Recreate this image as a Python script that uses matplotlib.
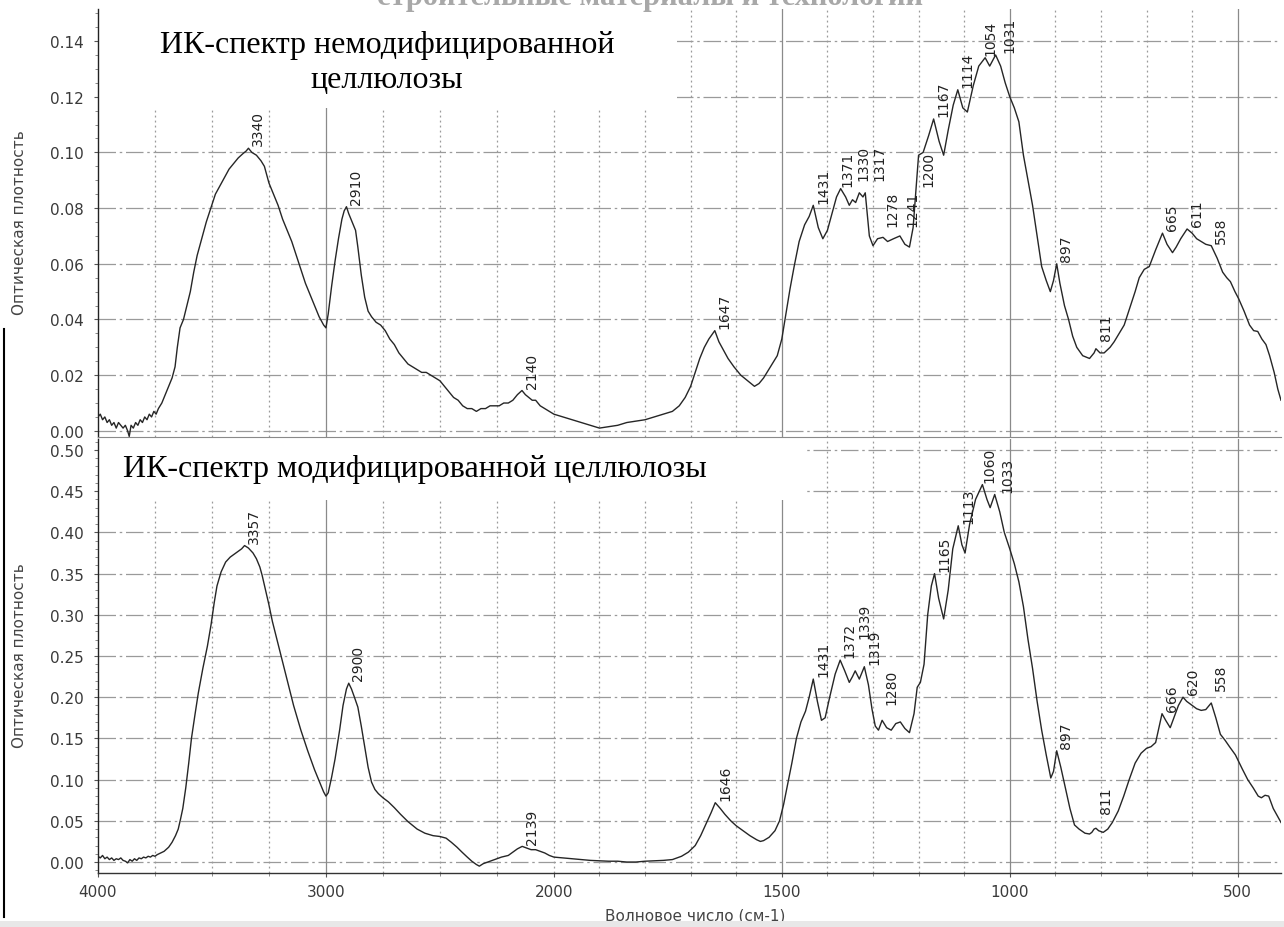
import numpy as np
import matplotlib
matplotlib.use('Agg')
import matplotlib.pyplot as plt
from matplotlib.patches import Rectangle
from matplotlib.lines import Line2D
from matplotlib.ticker import FixedLocator, MultipleLocator, FormatStrFormatter

plt.rcParams['font.family'] = ['DejaVu Sans']

# spectrum of the untreated cellulose (wavenumber, optical density)
top_wn = [4000, 3990, 3980, 3970, 3960, 3950, 3940, 3930, 3920, 3910,
          3900, 3890, 3880, 3870, 3863, 3855, 3845, 3835, 3825, 3815,
          3805, 3795, 3785, 3775, 3765, 3755, 3745, 3735, 3720, 3705,
          3690, 3675, 3662, 3652, 3640, 3625, 3610, 3595, 3580, 3565,
          3545, 3525, 3505, 3485, 3465, 3445, 3425, 3405, 3385, 3365,
          3350, 3340, 3325, 3305, 3285, 3270, 3250, 3230, 3210, 3190,
          3170, 3150, 3130, 3110, 3090, 3070, 3050, 3030, 3010, 3000,
          2990, 2975, 2960, 2945, 2930, 2920, 2910, 2900, 2885, 2870,
          2860, 2845, 2830, 2815, 2800, 2780, 2760, 2740, 2720, 2700,
          2680, 2660, 2640, 2620, 2600, 2580, 2560, 2540, 2520, 2500,
          2480, 2460, 2440, 2420, 2400, 2380, 2360, 2340, 2320, 2300,
          2280, 2260, 2240, 2220, 2200, 2180, 2160, 2140, 2125, 2110,
          2095, 2080, 2060, 2040, 2020, 2000, 1980, 1960, 1940, 1920,
          1900, 1880, 1860, 1840, 1820, 1800, 1780, 1760, 1740, 1725,
          1712, 1700, 1690, 1680, 1670, 1660, 1647, 1638, 1628, 1618,
          1605, 1590, 1575, 1560, 1550, 1540, 1525, 1510, 1500, 1492,
          1482, 1473, 1462, 1450, 1440, 1431, 1420, 1410, 1400, 1390,
          1380, 1371, 1360, 1352, 1345, 1338, 1330, 1322, 1317, 1308,
          1300, 1290, 1278, 1268, 1255, 1241, 1230, 1220, 1212, 1205,
          1200, 1190, 1178, 1167, 1155, 1145, 1135, 1124, 1114, 1103,
          1093, 1080, 1068, 1054, 1044, 1031, 1020, 1010, 1000, 990,
          980, 970, 960, 950, 940, 930, 920, 911, 904, 897,
          890, 880, 871, 862, 853, 840, 825, 815, 811, 802,
          793, 780, 771, 760, 749, 735, 725, 716, 705, 694,
          680, 670, 665, 655, 643, 635, 625, 611, 600, 590,
          580, 570, 558, 545, 533, 524, 516, 506, 498, 486,
          474, 465, 456, 447, 438, 430, 420, 412, 405]
top_ab = [.005, .006, .004, .005, .003, .004, .002, .003, .001, .003,
          .002, .001, .002, .000, -.002, .002, .001, .003, .002, .004,
          .003, .005, .004, .006, .005, .007, .006, .008, .010, .013,
          .016, .019, .023, .030, .037, .040, .045, .050, .057, .063,
          .069, .075, .080, .085, .088, .091, .094, .096, .098, .0995,
          .1005, .1015, .100, .099, .097, .095, .089, .085, .081, .076,
          .072, .068, .063, .058, .053, .049, .045, .041, .038, .037,
          .042, .052, .061, .069, .076, .079, .0805, .078, .075, .072,
          .066, .056, .048, .043, .041, .039, .038, .036, .033, .031,
          .028, .026, .024, .023, .022, .021, .021, .020, .019, .018,
          .016, .014, .012, .011, .009, .008, .008, .007, .008, .008,
          .009, .009, .009, .010, .010, .011, .013, .0145, .013, .012,
          .011, .011, .009, .008, .007, .006, .005, .004, .003, .002,
          .001, .0015, .002, .003, .0035, .004, .005, .006, .007, .009,
          .012, .016, .021, .026, .030, .033, .036, .032, .029, .026,
          .023, .020, .018, .016, .017, .019, .023, .027, .033, .041,
          .051, .059, .068, .074, .077, .081, .073, .069, .072, .078,
          .084, .087, .084, .081, .083, .082, .0855, .084, .0855, .070,
          .0665, .069, .0695, .068, .069, .070, .067, .066, .073, .088,
          .099, .100, .106, .112, .104, .099, .108, .117, .1225, .116,
          .1145, .124, .131, .134, .131, .135, .131, .125, .120, .116,
          .111, .099, .090, .081, .070, .059, .054, .050, .054, .060,
          .053, .045, .040, .034, .030, .027, .026, .028, .0295, .028,
          .028, .030, .032, .035, .038, .045, .050, .055, .058, .059,
          .065, .069, .071, .067, .064, .066, .069, .0725, .071, .069,
          .068, .067, .0665, .062, .057, .055, .0536, .050, .0475, .043,
          .038, .036, .0357, .033, .031, .027, .021, .015, .011]
top_peaks = [3340, 2910, 2140, 1647, 1431, 1371, 1330, 1317, 1278, 1241,
             1200, 1167, 1114, 1054, 1031, 897, 811, 665, 611, 558]

# spectrum of the modified cellulose
bot_wn = [4000, 3990, 3980, 3970, 3960, 3950, 3940, 3930, 3920, 3910,
          3900, 3890, 3880, 3870, 3860, 3850, 3840, 3830, 3820, 3810,
          3800, 3790, 3780, 3770, 3760, 3750, 3740, 3725, 3710, 3690,
          3675, 3660, 3648, 3638, 3628, 3615, 3602, 3590, 3575, 3560,
          3540, 3520, 3504, 3490, 3478, 3460, 3440, 3420, 3400, 3380,
          3370, 3357, 3340, 3320, 3305, 3290, 3280, 3265, 3250, 3235,
          3215, 3195, 3170, 3142, 3110, 3080, 3050, 3025, 3010, 3000,
          2990, 2975, 2960, 2940, 2925, 2910, 2900, 2888, 2875, 2860,
          2845, 2830, 2815, 2800, 2785, 2770, 2750, 2726, 2700, 2673,
          2640, 2600, 2566, 2530, 2500, 2473, 2450, 2425, 2403, 2380,
          2360, 2340, 2327, 2310, 2290, 2270, 2250, 2230, 2200, 2180,
          2160, 2139, 2120, 2100, 2080, 2060, 2040, 2020, 2000, 1980,
          1960, 1940, 1920, 1900, 1880, 1860, 1840, 1820, 1800, 1780,
          1760, 1740, 1720, 1705, 1690, 1678, 1665, 1655, 1646, 1635,
          1625, 1612, 1600, 1585, 1570, 1555, 1547, 1540, 1528, 1515,
          1505, 1496, 1487, 1478, 1468, 1458, 1448, 1440, 1431, 1422,
          1413, 1405, 1395, 1383, 1372, 1362, 1352, 1345, 1339, 1330,
          1319, 1310, 1302, 1295, 1288, 1280, 1270, 1260, 1250, 1240,
          1230, 1220, 1210, 1203, 1196, 1188, 1180, 1172, 1165, 1156,
          1145, 1135, 1125, 1113, 1105, 1098, 1088, 1075, 1060, 1050,
          1043, 1033, 1022, 1012, 1000, 990, 980, 970, 960, 950,
          940, 930, 920, 910, 904, 897, 888, 878, 868, 858,
          848, 835, 825, 820, 815, 811, 805, 795, 785, 775,
          762, 750, 738, 725, 712, 700, 690, 680, 672, 666,
          658, 648, 640, 630, 620, 612, 600, 590, 580, 570,
          558, 548, 538, 528, 518, 505, 490, 478, 466, 455,
          448, 440, 432, 422, 412, 405]
bot_ab = [.007, .005, .008, .004, .006, .003, .005, .002, .004, .003,
          .005, .002, .001, -.001, .003, .001, .004, .002, .005, .004,
          .006, .005, .007, .006, .008, .007, .009, .011, .013, .018,
          .024, .032, .040, .052, .065, .090, .120, .150, .178, .205,
          .235, .262, .288, .315, .335, .352, .364, .370, .374, .378,
          .380, .384, .381, .375, .368, .358, .348, .330, .312, .292,
          .270, .248, .220, .190, .160, .135, .112, .095, .085, .080,
          .084, .103, .125, .160, .190, .210, .217, .210, .200, .188,
          .165, .140, .115, .097, .088, .083, .078, .073, .066, .058,
          .049, .040, .035, .032, .031, .029, .024, .018, .012, .006,
          .001, -.003, -.005, -.002, .000, .002, .004, .006, .008, .012,
          .016, .019, .017, .015, .015, .013, .011, .008, .006, .005,
          .004, .003, .002, .0015, .001, .001, .000, .000, .001, .0015,
          .002, .003, .007, .012, .020, .032, .048, .060, .072, .065,
          .058, .050, .044, .038, .032, .027, .025, .026, .030, .038,
          .050, .070, .095, .120, .150, .170, .183, .200, .222, .195,
          .172, .175, .200, .228, .245, .232, .218, .225, .232, .222,
          .237, .215, .185, .165, .160, .172, .163, .160, .168, .170,
          .162, .157, .180, .212, .218, .240, .300, .335, .350, .320,
          .295, .330, .380, .408, .385, .375, .410, .440, .458, .440,
          .430, .446, .425, .400, .380, .362, .340, .310, .270, .235,
          .195, .160, .130, .102, .110, .135, .115, .090, .065, .045,
          .040, .035, .034, .036, .040, .041, .038, .036, .040, .048,
          .062, .080, .100, .120, .132, .138, .140, .145, .165, .180,
          .172, .163, .175, .190, .200, .195, .190, .186, .184, .185,
          .193, .175, .155, .148, .140, .130, .113, .100, .090, .080,
          .078, .081, .080, .065, .055, .048]
bot_peaks = [3357, 2900, 2139, 1646, 1431, 1372, 1339, 1319, 1280, 1165,
             1113, 1060, 1033, 897, 811, 666, 620, 558]

xticks = [4000, 3000, 2000, 1500, 1000, 500]

# label nudges in points for crowded peak labels
top_nudge = {1371: (-2, 0), 1330: (-4, 7), 1317: (3, 7), 1278: (0, 6),
             1241: (2, 5), 1200: (0, -24), 1054: (-3, 0), 1031: (3, 0),
             811: (0, 4)}
bot_nudge = {1339: (0, 22), 1280: (0, 10), 1060: (-2, 0), 1033: (2, 0),
             811: (0, 9), 558: (0, 7)}


# instrument scale: the region below 2000 cm-1 is stretched twice
def fwd(x):
    x = np.asarray(x, dtype=float)
    return np.where(x >= 2000, x, 2 * x - 2000)


def inv(t):
    t = np.asarray(t, dtype=float)
    return np.where(t >= 2000, t, (t + 2000) / 2)


W, H = 1284, 928
fig = plt.figure(figsize=(W / 100, H / 100), dpi=100)


def px_rect(left, top, right, bottom):
    return [left / W, 1 - bottom / H, (right - left) / W, (bottom - top) / H]


ax_top = fig.add_axes(px_rect(98, 10, 1281, 438))
ax_bot = fig.add_axes(px_rect(98, 440, 1281, 874))

grid_minor = [v for v in list(range(3750, 1999, -250)) + list(range(1900, 399, -100))
              if v not in (3000, 1500, 1000, 500)]


def style_axes(ax, ymax, ymin, ystep, yminor):
    ax.set_xscale('function', functions=(fwd, inv))
    ax.set_xlim(4000, 405)
    ax.set_ylim(ymin, ymax)
    ax.set_axisbelow(True)
    ax.xaxis.set_major_locator(FixedLocator(xticks))
    ax.xaxis.set_major_formatter(FormatStrFormatter('%d'))
    ax.xaxis.set_minor_locator(FixedLocator(grid_minor))
    ax.yaxis.set_major_locator(MultipleLocator(ystep))
    ax.yaxis.set_minor_locator(MultipleLocator(yminor))
    ax.yaxis.set_major_formatter(FormatStrFormatter('%.2f'))
    ax.grid(axis='y', which='major', color='#9a9a9a', lw=0.9,
            linestyle=(0, (14, 3, 2, 3)))
    for v in (3000, 1500, 1000, 500):
        ax.axvline(v, color='#8a8a8a', lw=0.9, zorder=0.6)
    for v in grid_minor:
        ax.axvline(v, color='#9a9a9a', lw=0.9, linestyle=(0, (1.5, 2.5)), zorder=0.6)
    ax.tick_params(axis='y', which='major', length=3, pad=7, labelsize=11,
                   labelcolor='#3a3a3a', color='#555')
    ax.tick_params(axis='y', which='minor', length=2, color='#777')
    for s in ('top', 'right'):
        ax.spines[s].set_visible(False)
    ax.spines['left'].set_color('#222')
    ax.spines['left'].set_linewidth(1.0)


def label_peaks(ax, wn, ab, peaks, nudge):
    xs = np.array(wn[::-1], dtype=float)
    ys = np.array(ab[::-1], dtype=float)
    for p in peaks:
        y = np.interp(p, xs, ys)
        dx, dy = nudge.get(p, (0, 0))
        ax.annotate(str(p), (p, y), xytext=(7 + dx, 2 + dy),
                    textcoords='offset points', rotation=90,
                    ha='center', va='bottom', fontsize=10, color='#222')


# upper panel
style_axes(ax_top, 0.1515, -0.0022, 0.02, 0.005)
ax_top.tick_params(axis='x', which='both', bottom=False, labelbottom=False)
ax_top.spines['bottom'].set_color('#8a8a8a')
ax_top.spines['bottom'].set_linewidth(0.8)
ax_top.add_patch(Rectangle((1730, 0.116), 4000 - 1730, 0.1,
                           facecolor='white', edgecolor='none', zorder=1.2))
ax_top.plot(top_wn, top_ab, color='#262626', lw=1.0, zorder=2)
label_peaks(ax_top, top_wn, top_ab, top_peaks, top_nudge)

# lower panel
style_axes(ax_bot, 0.5133, -0.0133, 0.05, 0.01)
ax_bot.tick_params(axis='x', which='major', length=3, pad=5, labelsize=11,
                   labelcolor='#3a3a3a', color='#555')
ax_bot.tick_params(axis='x', which='minor', length=2, color='#777')
ax_bot.spines['bottom'].set_color('#333')
ax_bot.spines['bottom'].set_linewidth(1.0)
ax_bot.add_patch(Rectangle((1447, 0.439), 4000 - 1447, 0.2,
                           facecolor='white', edgecolor='none', zorder=1.2))
ax_bot.plot(bot_wn, bot_ab, color='#262626', lw=1.0, zorder=2)
label_peaks(ax_bot, bot_wn, bot_ab, bot_peaks, bot_nudge)

# titles inside the panels
serif = dict(family='Liberation Serif', fontsize=23, color='black',
             ha='center', va='baseline')
fig.text(387 / W, 1 - 53 / H, 'ИК-спектр немодифицированной', **serif)
fig.text(387 / W, 1 - 88 / H, 'целлюлозы', **serif)
fig.text(415 / W, 1 - 477 / H, 'ИК-спектр модифицированной целлюлозы', **serif)

# axis captions
fig.text(20 / W, 1 - 223 / H, 'Оптическая плотность', rotation=90,
         ha='center', va='center', fontsize=11, color='#444')
fig.text(20 / W, 1 - 656 / H, 'Оптическая плотность', rotation=90,
         ha='center', va='center', fontsize=11, color='#444')
fig.text(695 / W, 1 - 916 / H, 'Волновое число (см-1)',
         ha='center', va='center', fontsize=11, color='#444')

# running header of the journal page, cut by the page edge
fig.text(650 / W, 1 - 5 / H, 'строительные материалы и технологии',
         family='Liberation Serif', fontweight='bold', fontsize=22,
         color='#a8a8a8', ha='center', va='baseline')

# page edge details
fig.add_artist(Line2D([4 / W, 4 / W], [1 - 330 / H, 1 - 918 / H],
                      color='black', lw=1.5))
fig.add_artist(Rectangle((0, 0), 1, 6 / H, transform=fig.transFigure,
                         facecolor='#e8e8e8', edgecolor='none', zorder=10))

fig.savefig('out.png', dpi=100, facecolor='white')
